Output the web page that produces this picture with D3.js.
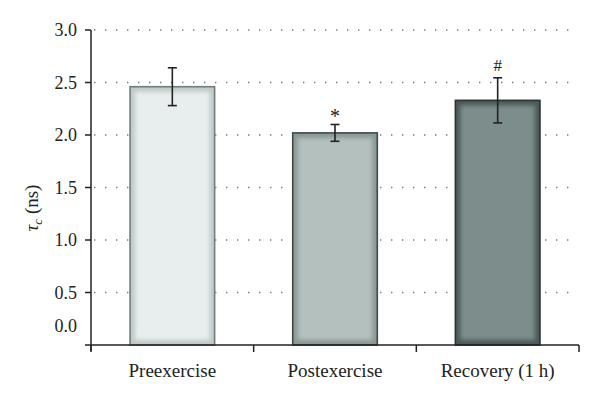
<!DOCTYPE html>
<html><head><meta charset="utf-8">
<script src="https://cdn.jsdelivr.net/npm/d3@7"></script>
<style>body{margin:0;background:#fff}svg{display:block}</style>
</head><body>
<svg id="c" width="600" height="403"></svg>
<script>
const categories = ["Preexercise", "Postexercise", "Recovery (1 h)"];
const means = [2.46, 2.02, 2.33];
const errors = [0.18, 0.08, 0.215];
const marks = ["", "*", "#"];
const yTicks = [0, 0.5, 1.0, 1.5, 2.0, 2.5, 3.0];
const mainColors = ["#e8eeee", "#b3c0be", "#7b8d8b"];
const edgeColors = ["#bfc9c8", "#8a9795", "#4a5958"];
const borderColors = ["#737d7c", "#3f4a49", "#2a3434"];

const svg = d3.select("#c");
const x0 = 91, x1 = 579, yTop = 30, yBot = 345;
const x = d3.scaleBand().domain(categories).range([x0, x1]).paddingInner(0).paddingOuter(0);
const y = d3.scaleLinear().domain([0, 3]).range([yBot, yTop]);
const font = "'Liberation Serif', 'Times New Roman', serif";

const defs = svg.append("defs");
defs.append("filter").attr("id", "blur").attr("x", "-20%").attr("y", "-20%").attr("width", "140%").attr("height", "140%")
  .append("feGaussianBlur").attr("stdDeviation", 2.2);

// grid
svg.append("g").selectAll("line").data(yTicks.filter(d => d > 0)).join("line")
  .attr("x1", x0 + 3).attr("x2", 576)
  .attr("y1", d => y(d)).attr("y2", d => y(d))
  .attr("stroke", "#777").attr("stroke-width", 1.3)
  .attr("stroke-dasharray", "1.4,9.6");

// bars
const bw = x.bandwidth() * 0.52;
const g = svg.append("g");
categories.forEach((c, i) => {
  const bx = x(c) + (x.bandwidth() - bw) / 2;
  const by = y(means[i]);
  const bh = y(0) - by;
  g.append("rect").attr("x", bx).attr("y", by).attr("width", bw).attr("height", bh)
    .attr("fill", edgeColors[i]);
  g.append("rect").attr("x", bx + 5).attr("y", by + 5).attr("width", bw - 10).attr("height", bh - 10)
    .attr("fill", mainColors[i]).attr("filter", "url(#blur)");
  g.append("rect").attr("x", bx).attr("y", by).attr("width", bw).attr("height", bh)
    .attr("fill", "none").attr("stroke", borderColors[i]).attr("stroke-width", 1.6);
});

// error bars
const eb = svg.append("g").attr("stroke", "#222").attr("stroke-width", 1.6);
categories.forEach((c, i) => {
  const cx = x(c) + x.bandwidth() / 2;
  const hi = y(means[i] + errors[i]), lo = y(means[i] - errors[i]);
  eb.append("line").attr("x1", cx).attr("x2", cx).attr("y1", hi).attr("y2", lo);
  eb.append("line").attr("x1", cx - 4.5).attr("x2", cx + 4.5).attr("y1", hi).attr("y2", hi);
  eb.append("line").attr("x1", cx - 4.5).attr("x2", cx + 4.5).attr("y1", lo).attr("y2", lo);
  if (marks[i]) {
    svg.append("text").attr("x", cx).attr("y", marks[i] === "*" ? hi - 2 : hi - 7).attr("text-anchor", "middle")
      .attr("font-family", font).attr("font-size", marks[i] === "*" ? 20 : 17).attr("fill", "#222").text(marks[i]);
  }
});

// axes
const ax = svg.append("g").attr("stroke", "#222").attr("stroke-width", 1.5);
ax.append("line").attr("x1", x0).attr("x2", x0).attr("y1", yTop).attr("y2", yBot + 6);
ax.append("line").attr("x1", x0 - 6).attr("x2", x1).attr("y1", yBot).attr("y2", yBot);
yTicks.filter(d => d > 0).forEach(d => {
  ax.append("line").attr("x1", x0 - 6).attr("x2", x0).attr("y1", y(d)).attr("y2", y(d));
});
const xTickPos = [x0].concat(categories.map(c => x(c) + x.bandwidth()));
xTickPos.forEach(p => {
  ax.append("line").attr("x1", p).attr("x2", p).attr("y1", yBot).attr("y2", yBot + 7);
});

// y tick labels
svg.append("g").selectAll("text").data(yTicks).join("text")
  .attr("x", 77).attr("y", d => d === 0 ? 326 : y(d))
  .attr("dy", "0.35em").attr("text-anchor", "end")
  .attr("font-family", font).attr("font-size", 18).attr("fill", "#222")
  .text(d => d.toFixed(1));

// x labels
svg.append("g").selectAll("text").data(categories).join("text")
  .attr("x", d => x(d) + x.bandwidth() / 2).attr("y", 377)
  .attr("text-anchor", "middle")
  .attr("font-family", font).attr("font-size", 19).attr("fill", "#222")
  .text(d => d);

// y label
const yl = svg.append("text").attr("transform", "translate(38,208) rotate(-90)")
  .attr("text-anchor", "middle").attr("font-family", font).attr("font-size", 19).attr("fill", "#222");
yl.append("tspan").attr("font-style", "italic").text("τ");
yl.append("tspan").attr("font-style", "italic").attr("font-size", 13).attr("dy", 4).text("c");
yl.append("tspan").attr("dy", -4).text(" (ns)");
</script>
</body></html>
